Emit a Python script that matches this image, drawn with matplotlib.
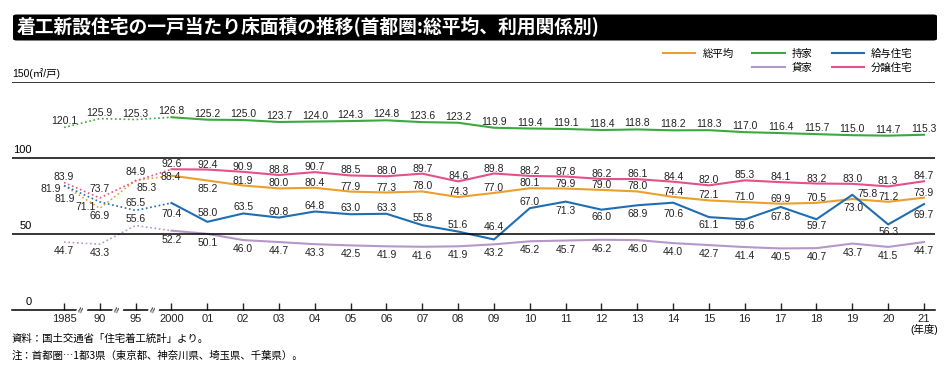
import matplotlib.pyplot as plt
from matplotlib.patches import FancyBboxPatch
from matplotlib.lines import Line2D

plt.rcParams['font.family'] = ['Liberation Sans', 'Noto Sans CJK JP']

# データ（年度別、㎡/戸）
years = ['1985', '90', '95', '2000', '01', '02', '03', '04', '05', '06', '07', '08', '09',
         '10', '11', '12', '13', '14', '15', '16', '17', '18', '19', '20', '21']
avg = [81.9, 66.9, 85.3, 88.4, 85.2, 81.9, 80.0, 80.4, 77.9, 77.3, 78.0, 74.3, 77.0,
       80.1, 79.9, 79.0, 78.0, 74.4, 72.1, 71.0, 69.9, 70.5, 73.0, 71.2, 73.9]
own = [120.1, 125.9, 125.3, 126.8, 125.2, 125.0, 123.7, 124.0, 124.3, 124.8, 123.6, 123.2, 119.9,
       119.4, 119.1, 118.4, 118.8, 118.2, 118.3, 117.0, 116.4, 115.7, 115.0, 114.7, 115.3]
company = [81.9, 71.1, 65.5, 70.4, 58.0, 63.5, 60.8, 64.8, 63.0, 63.3, 55.8, 51.6, 46.4,
           67.0, 71.3, 66.0, 68.9, 70.6, 61.1, 59.6, 67.8, 59.7, 75.8, 56.3, 69.7]
rent = [44.7, 43.3, 55.6, 52.2, 50.1, 46.0, 44.7, 43.3, 42.5, 41.9, 41.6, 41.9, 43.2,
        45.2, 45.7, 46.2, 46.0, 44.0, 42.7, 41.4, 40.5, 40.7, 43.7, 41.5, 44.7]
sale = [83.9, 73.7, 84.9, 92.6, 92.4, 90.9, 88.8, 90.7, 88.5, 88.0, 89.7, 84.6, 89.8,
        88.2, 87.8, 86.2, 86.1, 84.4, 82.0, 85.3, 84.1, 83.2, 83.0, 81.3, 84.7]

names = ['総平均', '持家', '給与住宅', '貸家', '分譲住宅']
colors = ['#E9A02F', '#3BAA3E', '#1F6DB3', '#B597C9', '#E4508A']

# ラベル位置（ピクセル）：系列ごとの既定値と個別調整
label_dy = {'総平均': 5, '持家': 6, '給与住宅': 6, '貸家': -9, '分譲住宅': 5}
label_fix = {
    '総平均': {0: (1, -13), 1: (0, -8), 2: (11, -8), 3: (-1, -1), 4: (0, -9), 22: (1, -9)},
    '給与住宅': {0: (-13, -3), 1: (-14, -5), 2: (0, 7), 3: (0, -11), 4: (0, 9), 9: (0, 6),
             10: (0, 7), 11: (0, 7), 12: (0, 12), 14: (0, -9), 15: (0, -7), 16: (0, -9),
             17: (0, -11), 18: (0, -8), 19: (0, -7), 20: (0, -10), 21: (0, -7),
             22: (15, 1), 23: (0, -8), 24: (0, -11)},
    '貸家': {2: (0, 6)},
    '分譲住宅': {1: (0, 9), 2: (0, 9)},
}

fig = plt.figure(figsize=(9.5, 3.85), dpi=100)
ax = fig.add_axes([12 / 950, 75 / 385, 923 / 950, 228 / 385])
x = list(range(len(years)))

series = [avg, own, company, rent, sale]
handles = []
for name, vals, c in zip(names, series, colors):
    ax.plot(x[:4], vals[:4], color=c, lw=1.2, linestyle=(0, (1, 1.6)))
    h, = ax.plot(x[3:], vals[3:], color=c, lw=1.5)
    handles.append(h)
    for i, v in enumerate(vals):
        dx, dy = label_fix.get(name, {}).get(i, (0, label_dy[name]))
        ax.annotate(f'{v:.1f}', (i, v), xytext=(dx, dy), textcoords='offset pixels',
                    ha='center', va='center', fontsize=7.5, color='#222222')

ax.set_xlim(-1.451, 24.307)
ax.set_ylim(0, 150)
for s in ['top', 'left', 'right']:
    ax.spines[s].set_visible(False)
ax.spines['bottom'].set_linewidth(1.1)
for yv in [50, 100, 150]:
    ax.axhline(yv, color='black', lw=1.1)
ax.set_yticks([])
ax.set_xticks(x)
ax.set_xticklabels(years)
ax.tick_params(axis='x', direction='in', length=5, width=1, pad=3, labelsize=8, colors='#222222')

for yv, lab in [(0, '0'), (50, '50'), (100, '100')]:
    ax.annotate(lab, (0, yv), xycoords=('axes fraction', 'data'), xytext=(20, 3),
                textcoords='offset pixels', ha='right', va='bottom', fontsize=8)
ax.annotate('150(㎡/戸)', (0, 150), xycoords=('axes fraction', 'data'), xytext=(0, 3),
            textcoords='offset pixels', ha='left', va='bottom', fontsize=7.5)
ax.annotate('(年度)', (24, 0), xytext=(0, -19), textcoords='offset pixels',
            ha='center', va='center', fontsize=7.5)

# 軸の省略記号
for i in range(3):
    ax.text(i + 0.5, 0, '≈', rotation=70, ha='center', va='center', fontsize=8,
            bbox=dict(fc='white', ec='none', pad=0))

# 凡例
blank = Line2D([], [], color='none')
leg = fig.legend([handles[0], blank, handles[1], handles[3], handles[2], handles[4]],
                 ['総平均', '', '持家', '貸家', '給与住宅', '分譲住宅'],
                 ncol=3, loc='upper left', bbox_to_anchor=(663 / 950, 1 - 49 / 385),
                 frameon=False, fontsize=7.5, handlelength=3.1, handletextpad=0.7,
                 columnspacing=1.8, labelspacing=0.35, borderpad=0, borderaxespad=0)
for t in leg.get_texts():
    t.set_family('Noto Sans CJK JP')

# タイトル
fig.patches.append(FancyBboxPatch((13 / 950, 1 - 40.5 / 385), 924 / 950, 26 / 385,
                                  boxstyle='round,pad=0,rounding_size=0.004',
                                  transform=fig.transFigure, fc='black', ec='none'))
fig.text(17 / 950, 1 - 27.5 / 385, '着工新設住宅の一戸当たり床面積の推移(首都圏:総平均、利用関係別)',
         color='white', fontsize=13.5, fontweight='bold', family='Noto Sans CJK JP',
         ha='left', va='center')

# 注記
fig.text(12 / 950, 1 - 339 / 385, '資料：国土交通省「住宅着工統計」より。',
         fontsize=7.5, family='Noto Sans CJK JP', va='center')
fig.text(12 / 950, 1 - 356 / 385, '注：首都圏…1都3県（東京都、神奈川県、埼玉県、千葉県）。',
         fontsize=7.5, family='Noto Sans CJK JP', va='center')

fig.savefig('out.png', dpi=100)
